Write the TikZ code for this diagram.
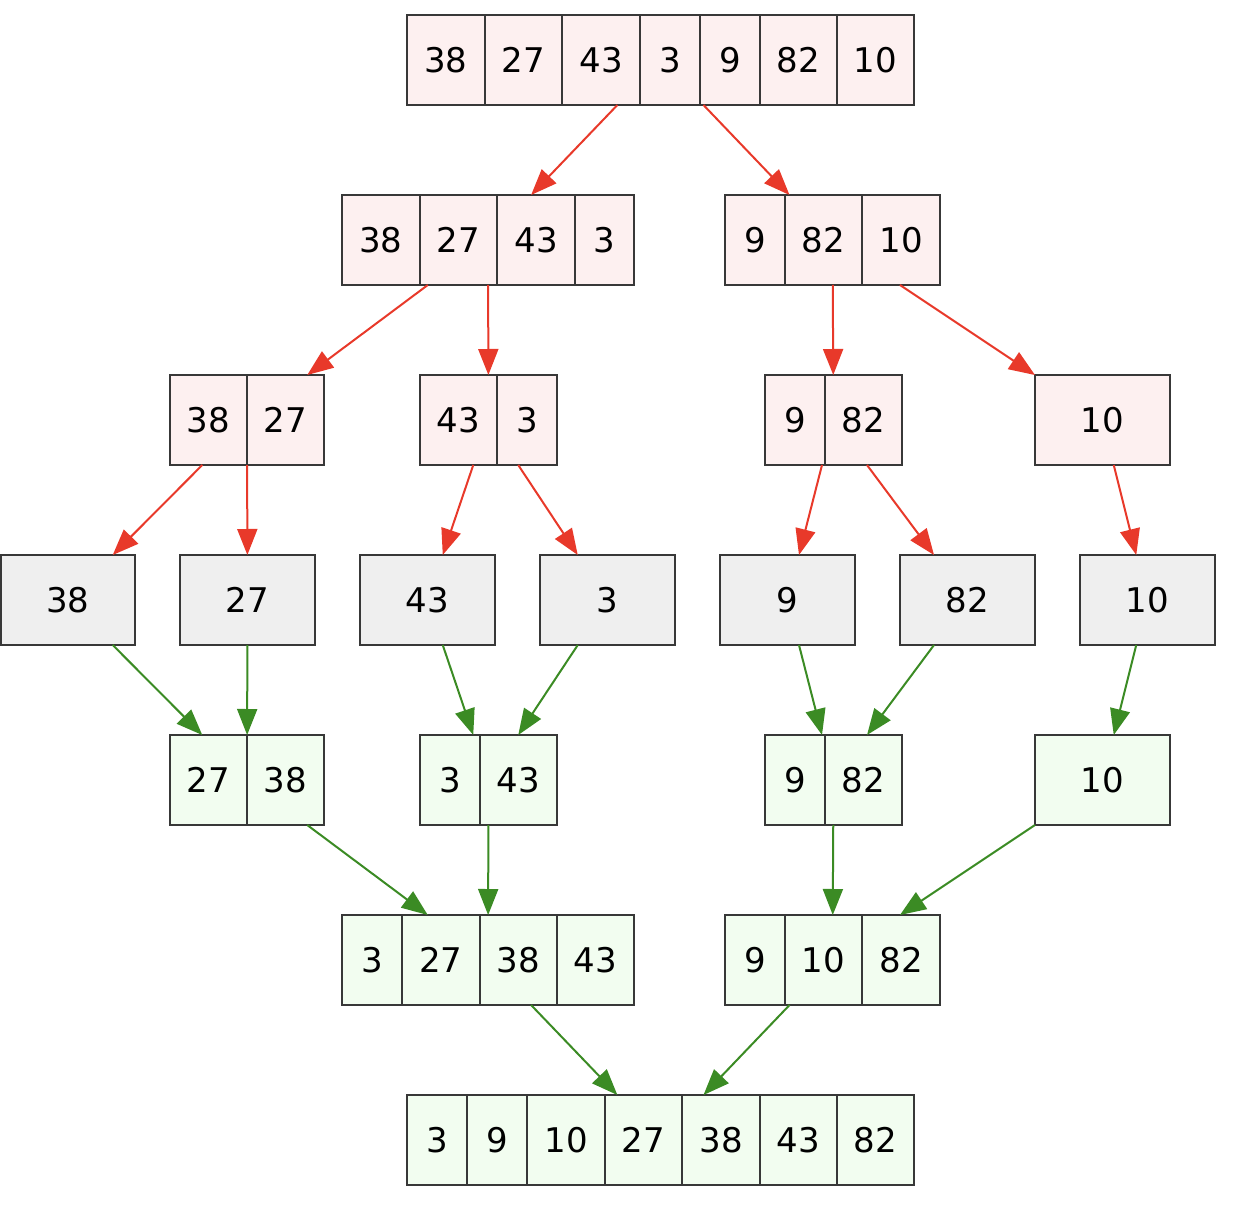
\documentclass[tikz,border=0pt]{standalone}
\usepackage{fontspec}
\setmainfont{DejaVu Sans}
\usetikzlibrary{arrows.meta,fit}
\definecolor{pinkfill}{HTML}{FDF0F0}
\definecolor{grayfill}{HTML}{EFEFEF}
\definecolor{greenfill}{HTML}{F2FDF0}
\definecolor{boxdraw}{HTML}{383838}
\definecolor{splitred}{HTML}{E8392A}
\definecolor{mergegreen}{HTML}{3B8B24}
\newcommand\cellnode[6]{\node[cellbox,fill=#6,minimum width={(#3-#2)*0.5pt}] (#1) at ({(#2+#3)/2},#4) {#5};}
\begin{document}
\begin{tikzpicture}[x=0.5pt,y=-0.5pt,
  cellbox/.style={draw=boxdraw,line width=1.2pt,minimum height=45pt,inner sep=0pt,outer sep=0pt,font=\fontsize{17}{20}\selectfont,text=black},
  record/.style={inner sep=0pt,outer sep=0pt},
  split/.style={draw=splitred,line width=1pt,-{Triangle[length=13pt,width=10pt]}},
  merge/.style={draw=mergegreen,line width=1pt,-{Triangle[length=13pt,width=10pt]}}]
\useasboundingbox (0,0) rectangle (1236,1208);
% row 1
\cellnode{a1}{407}{485}{60}{38}{pinkfill}
\cellnode{a2}{485}{562}{60}{27}{pinkfill}
\cellnode{a3}{562}{640}{60}{43}{pinkfill}
\cellnode{a4}{640}{700}{60}{3}{pinkfill}
\cellnode{a5}{700}{760}{60}{9}{pinkfill}
\cellnode{a6}{760}{837}{60}{82}{pinkfill}
\cellnode{a7}{837}{914}{60}{10}{pinkfill}
\node[record,fit=(a1)(a7)] (r1) {};
% row 2
\cellnode{b1}{342}{420}{240}{38}{pinkfill}
\cellnode{b2}{420}{497}{240}{27}{pinkfill}
\cellnode{b3}{497}{575}{240}{43}{pinkfill}
\cellnode{b4}{575}{634}{240}{3}{pinkfill}
\node[record,fit=(b1)(b4)] (r2a) {};
\cellnode{c1}{725}{785}{240}{9}{pinkfill}
\cellnode{c2}{785}{862}{240}{82}{pinkfill}
\cellnode{c3}{862}{940}{240}{10}{pinkfill}
\node[record,fit=(c1)(c3)] (r2b) {};
% row 3
\cellnode{d1}{170}{247}{420}{38}{pinkfill}
\cellnode{d2}{247}{324}{420}{27}{pinkfill}
\node[record,fit=(d1)(d2)] (r3a) {};
\cellnode{e1}{420}{497}{420}{43}{pinkfill}
\cellnode{e2}{497}{557}{420}{3}{pinkfill}
\node[record,fit=(e1)(e2)] (r3b) {};
\cellnode{f1}{765}{825}{420}{9}{pinkfill}
\cellnode{f2}{825}{902}{420}{82}{pinkfill}
\node[record,fit=(f1)(f2)] (r3c) {};
\cellnode{r3d}{1035}{1170}{420}{10}{pinkfill}
% row 4
\cellnode{h1}{1}{135}{600}{38}{grayfill}
\cellnode{h2}{180}{315}{600}{27}{grayfill}
\cellnode{h3}{360}{495}{600}{43}{grayfill}
\cellnode{h4}{540}{675}{600}{3}{grayfill}
\cellnode{h5}{720}{855}{600}{9}{grayfill}
\cellnode{h6}{900}{1035}{600}{82}{grayfill}
\cellnode{h7}{1080}{1215}{600}{10}{grayfill}
% row 5
\cellnode{i1}{170}{247}{780}{27}{greenfill}
\cellnode{i2}{247}{324}{780}{38}{greenfill}
\node[record,fit=(i1)(i2)] (r5a) {};
\cellnode{j1}{420}{480}{780}{3}{greenfill}
\cellnode{j2}{480}{557}{780}{43}{greenfill}
\node[record,fit=(j1)(j2)] (r5b) {};
\cellnode{k1}{765}{825}{780}{9}{greenfill}
\cellnode{k2}{825}{902}{780}{82}{greenfill}
\node[record,fit=(k1)(k2)] (r5c) {};
\cellnode{r5d}{1035}{1170}{780}{10}{greenfill}
% row 6
\cellnode{n1}{342}{402}{960}{3}{greenfill}
\cellnode{n2}{402}{480}{960}{27}{greenfill}
\cellnode{n3}{480}{557}{960}{38}{greenfill}
\cellnode{n4}{557}{634}{960}{43}{greenfill}
\node[record,fit=(n1)(n4)] (r6a) {};
\cellnode{o1}{725}{785}{960}{9}{greenfill}
\cellnode{o2}{785}{862}{960}{10}{greenfill}
\cellnode{o3}{862}{940}{960}{82}{greenfill}
\node[record,fit=(o1)(o3)] (r6b) {};
% row 7
\cellnode{p1}{407}{467}{1140}{3}{greenfill}
\cellnode{p2}{467}{527}{1140}{9}{greenfill}
\cellnode{p3}{527}{605}{1140}{10}{greenfill}
\cellnode{p4}{605}{682}{1140}{27}{greenfill}
\cellnode{p5}{682}{760}{1140}{38}{greenfill}
\cellnode{p6}{760}{837}{1140}{43}{greenfill}
\cellnode{p7}{837}{914}{1140}{82}{greenfill}
\node[record,fit=(p1)(p7)] (r7) {};
% split edges
\draw[split] (r1) -- (r2a);
\draw[split] (r1) -- (r2b);
\draw[split] (r2a) -- (r3a);
\draw[split] (r2a) -- (r3b);
\draw[split] (r2b) -- (r3c);
\draw[split] (r2b) -- (r3d);
\draw[split] (r3a) -- (h1);
\draw[split] (r3a) -- (h2);
\draw[split] (r3b) -- (h3);
\draw[split] (r3b) -- (h4);
\draw[split] (r3c) -- (h5);
\draw[split] (r3c) -- (h6);
\draw[split] (r3d) -- (h7);
% merge edges
\draw[merge] (h1) -- (r5a);
\draw[merge] (h2) -- (r5a);
\draw[merge] (h3) -- (r5b);
\draw[merge] (h4) -- (r5b);
\draw[merge] (h5) -- (r5c);
\draw[merge] (h6) -- (r5c);
\draw[merge] (h7) -- (r5d);
\draw[merge] (r5a) -- (r6a);
\draw[merge] (r5b) -- (r6a);
\draw[merge] (r5c) -- (r6b);
\draw[merge] (r5d) -- (r6b);
\draw[merge] (r6a) -- (r7);
\draw[merge] (r6b) -- (r7);
\end{tikzpicture}
\end{document}
